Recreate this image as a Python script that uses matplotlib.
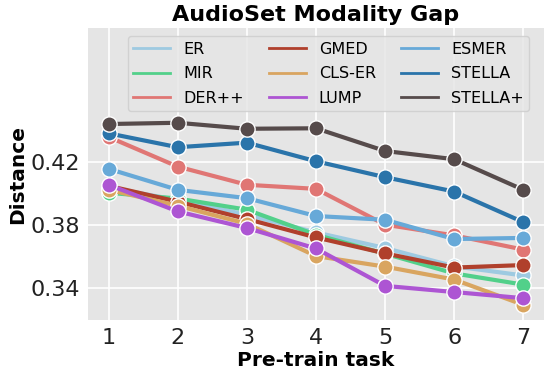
import numpy as np
import matplotlib.pyplot as plt

# AudioSet modality gap per pre-train task
tasks = [1, 2, 3, 4, 5, 6, 7]
methods = ["ER", "MIR", "DER++", "GMED", "CLS-ER", "LUMP", "ESMER", "STELLA", "STELLA+"]

er = [0.404, 0.396, 0.3867, 0.3755, 0.3656, 0.354, 0.3482]
mir = [0.4006, 0.397, 0.3899, 0.374, 0.362, 0.3495, 0.3424]
derpp = [0.436, 0.4172, 0.4057, 0.4031, 0.3804, 0.3736, 0.3646]
gmed = [0.405, 0.395, 0.384, 0.3723, 0.3622, 0.3532, 0.3548]
clser = [0.4025, 0.3924, 0.381, 0.3605, 0.3538, 0.3456, 0.3296]
lump = [0.4057, 0.3888, 0.3783, 0.3653, 0.3416, 0.3377, 0.3338]
esmer = [0.4158, 0.4025, 0.3972, 0.3859, 0.3835, 0.3713, 0.372]
stella = [0.4383, 0.4295, 0.4324, 0.4206, 0.4105, 0.4014, 0.382]
stellap = [0.4442, 0.445, 0.4412, 0.4415, 0.4271, 0.4219, 0.4025]

series = [er, mir, derpp, gmed, clser, lump, esmer, stella, stellap]
colors = ["#9ecae1", "#52d08a", "#e07674", "#b0402c", "#d9a560",
          "#ad55d3", "#67a9d8", "#2a74aa", "#564b4b"]

plt.rcParams['font.family'] = ['DejaVu Sans']
fig = plt.figure(figsize=(5.49, 3.80), dpi=100)
ax = fig.add_axes([0.160, 0.158, 0.831, 0.768])
ax.set_facecolor("#e5e5e5")
ax.grid(True, color="white", linewidth=1.2)
ax.set_axisbelow(True)
for s in ax.spines.values():
	s.set_visible(False)

for name, vals, c in zip(methods, series, colors):
	ax.plot(tasks, vals, color=c, linewidth=3, marker="o", markersize=11,
		markeredgecolor="white", markeredgewidth=1, label=name)

ax.set_xlim(0.7, 7.3)
ax.set_ylim(0.32, 0.505)
ax.set_xticks(tasks)
ax.set_yticks([0.34, 0.38, 0.42])
ax.tick_params(axis="both", labelsize=16, length=0, pad=6, colors="#222222")
ax.set_xlabel("Pre-train task", fontsize=14.5, fontweight="bold", labelpad=2)
ax.set_ylabel("Distance", fontsize=14.5, fontweight="bold", labelpad=2)
ax.set_title("AudioSet Modality Gap", fontsize=16, fontweight="bold", pad=5)

leg = ax.legend(ncol=3, loc="upper right", fontsize=11.5, frameon=True,
	handlelength=2.3, columnspacing=1.6, borderpad=0.35, labelspacing=0.6,
	bbox_to_anchor=(0.985, 1.0))
for h in leg.legend_handles:
	h.set_marker("")
	h.set_linewidth(2)
leg.get_frame().set_facecolor("#e5e5e5")
leg.get_frame().set_edgecolor("#cccccc")

fig.savefig("out.png", dpi=100)
